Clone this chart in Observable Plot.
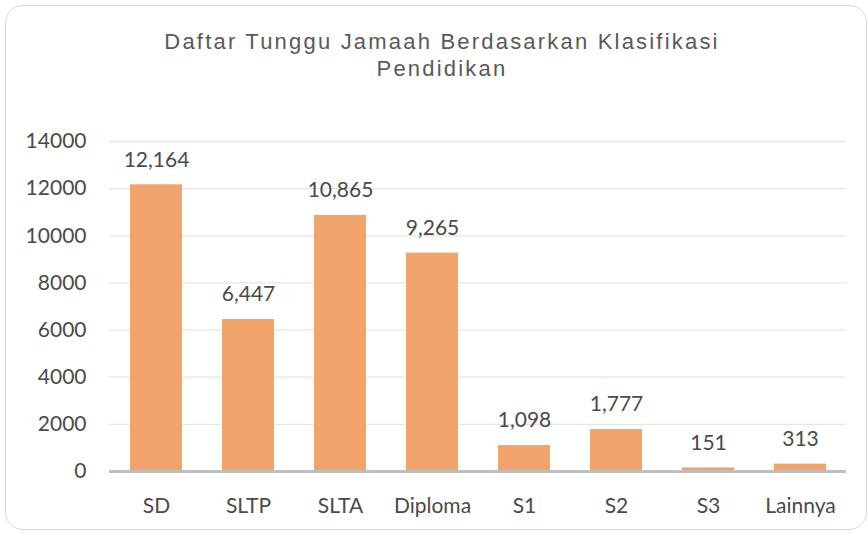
<!DOCTYPE html>
<html>
<head>
<meta charset="utf-8">
<script src="https://cdn.jsdelivr.net/npm/d3@7"></script>
<script src="https://cdn.jsdelivr.net/npm/@observablehq/plot@0.6"></script>
<style>
  html, body { margin: 0; padding: 0; background: #fff; }
  #wrap { position: relative; width: 868px; height: 533px; overflow: hidden; }
  #card { position: absolute; left: 5px; top: 5px; width: 862px; height: 525px;
          border: 1.5px solid #d9d9d9; border-radius: 18px; box-sizing: border-box; }
  #title { position: absolute; left: 0; top: 28px; width: 884px; text-align: center;
           font-family: "Liberation Sans", Arial, sans-serif; font-size: 22px;
           letter-spacing: 2.2px; line-height: 27px; color: #595959; }
  #chart { position: absolute; left: 0; top: 100px; }
</style>
</head>
<body>
<div id="wrap">
  <div id="card"></div>
  <div id="title">Daftar Tunggu Jamaah Berdasarkan Klasifikasi<br>Pendidikan</div>
  <div id="chart"></div>
</div>
<script>
const categories = ["SD", "SLTP", "SLTA", "Diploma", "S1", "S2", "S3", "Lainnya"];
const values = [12164, 6447, 10865, 9265, 1098, 1777, 151, 313];
const yTicks = [0, 2000, 4000, 6000, 8000, 10000, 12000, 14000];

const data = categories.map((c, i) => ({ cat: c, value: values[i] }));
const fmt = d3.format(",");

const chart = Plot.plot({
  width: 868,
  height: 433,
  marginTop: 41,
  marginBottom: 62,
  marginLeft: 109,
  marginRight: 22,
  style: { fontFamily: "Lato, 'Open Sans', sans-serif", fontSize: "21px", color: "#4a4a4a", background: "transparent" },
  x: { domain: categories, paddingInner: 0.435, paddingOuter: 0.2175, label: null },
  y: { domain: [0, 14000], label: null },
  marks: [
    Plot.gridY(yTicks, { stroke: "#e6e6e6", strokeOpacity: 1, strokeWidth: 1.3 }),
    Plot.axisY(yTicks, { tickSize: 0, tickPadding: 23, tickFormat: "d", label: null, fill: "#4a4a4a", fontSize: 21 }),
    Plot.axisX({ tickSize: 0, tickPadding: 27, label: null, fill: "#4a4a4a", fontSize: 21 }),
    Plot.barY(data, { x: "cat", y: "value", fill: "#f0a46c" }),
    Plot.ruleY([0], { stroke: "#bfbfbf", strokeWidth: 3 }),
    Plot.text(data, { x: "cat", y: "value", text: d => fmt(d.value), dy: -25, fill: "#4a4a4a", fontSize: 21 })
  ]
});
document.getElementById("chart").appendChild(chart);
</script>
</body>
</html>
